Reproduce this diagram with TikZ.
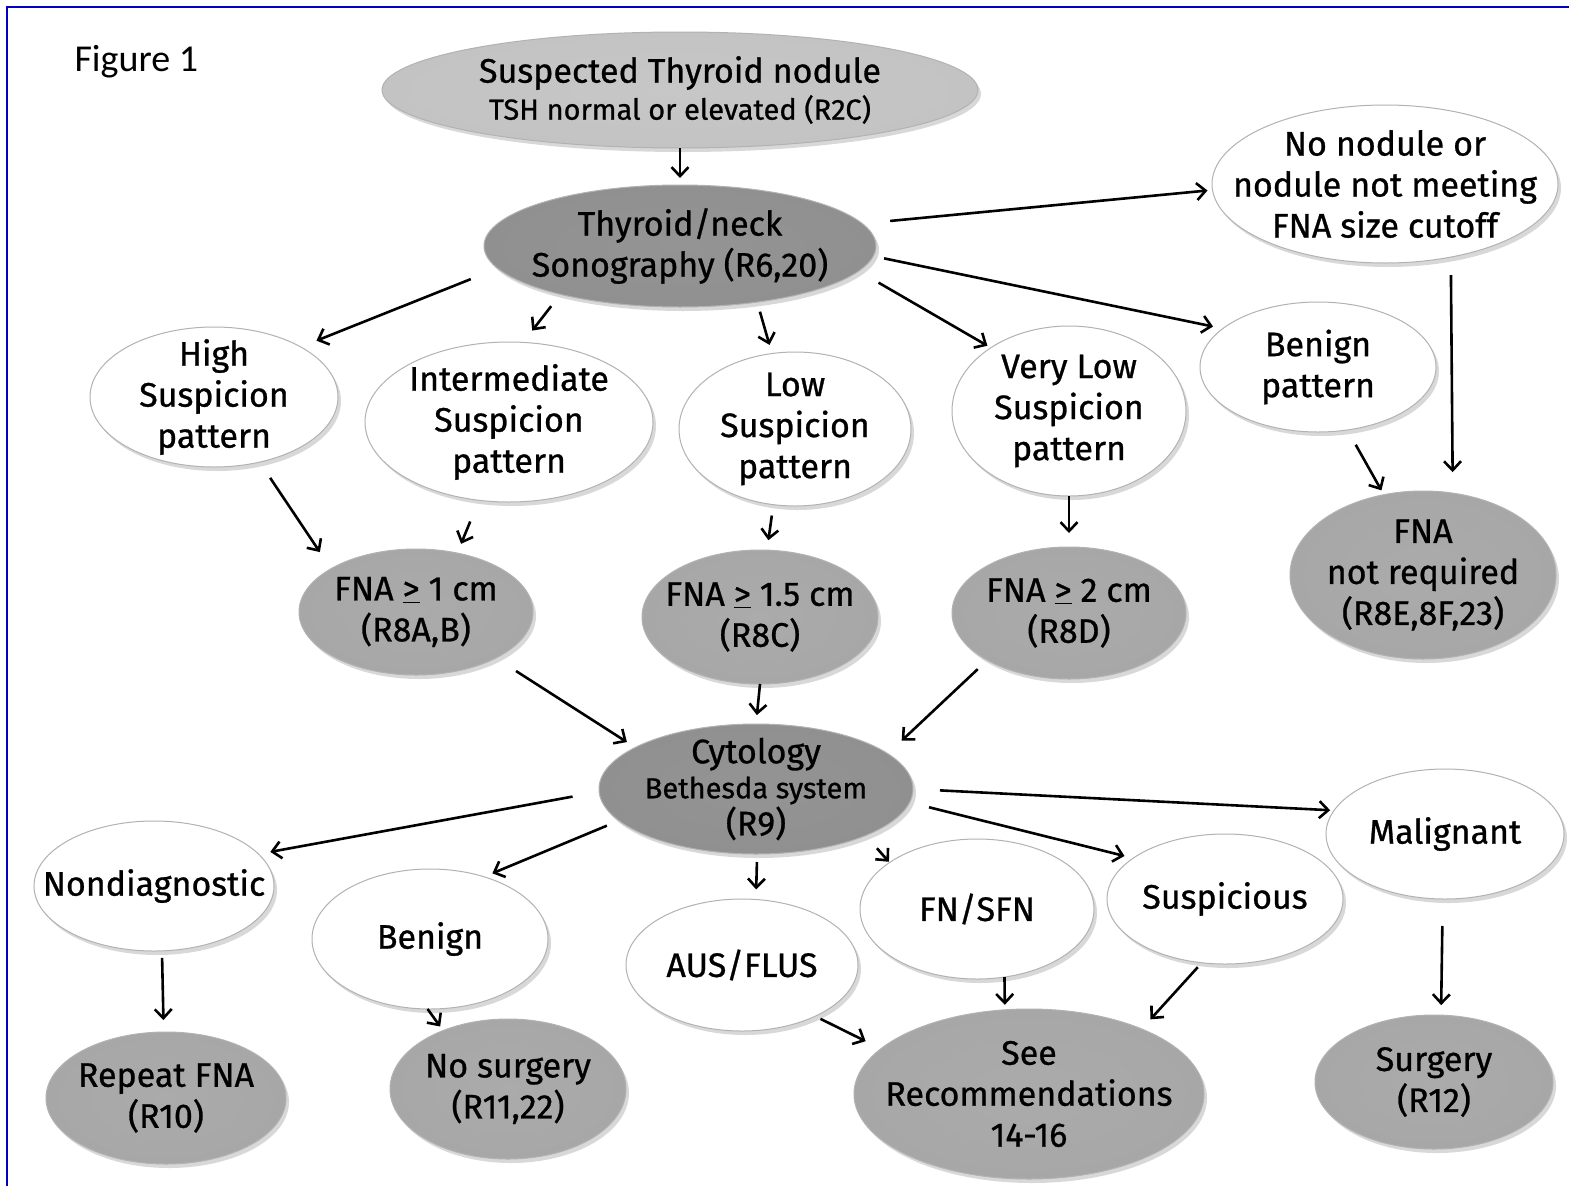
\documentclass[tikz,border=0pt]{standalone}
\usepackage{fontspec}
\setmainfont{Fira Sans}[BoldFont={Fira Sans}, BoldFeatures={FakeBold=0.8}]
\newfontfamily\figfont{Carlito}
\usetikzlibrary{shapes.geometric,shadows,arrows.meta}
\pgfdeclareradialshading{whiterim}{\pgfpoint{0bp}{0bp}}{color(0bp)=(white); color(41bp)=(white); color(47bp)=(black!10); color(50bp)=(black!32); color(100bp)=(black!32)}
\pgfdeclareradialshading{grayrim}{\pgfpoint{0bp}{0bp}}{color(0bp)=(black!33); color(34bp)=(black!35); color(45bp)=(black!42); color(50bp)=(black!58); color(100bp)=(black!58)}
\pgfdeclareradialshading{darkrim}{\pgfpoint{0bp}{0bp}}{color(0bp)=(black!42); color(34bp)=(black!44); color(45bp)=(black!50); color(50bp)=(black!65); color(100bp)=(black!65)}
\pgfdeclareradialshading{lightrim}{\pgfpoint{0bp}{0bp}}{color(0bp)=(black!22); color(34bp)=(black!24); color(45bp)=(black!30); color(50bp)=(black!47); color(100bp)=(black!47)}
\newcommand{\nfont}{\bfseries\fontsize{34}{41}\selectfont}
\newcommand{\sfont}{\fontsize{29}{36}\selectfont}
\tikzset{
  base/.style={ellipse, inner sep=-200pt, outer sep=0pt, draw=black!30, line width=1pt,
    drop shadow={opacity=0.3, shadow xshift=3pt, shadow yshift=-4pt},
    font=\nfont, align=center, text=black},
  wnode/.style={base, shade, shading=whiterim},
  gnode/.style={base, shade, shading=grayrim},
  dnode/.style={base, shade, shading=darkrim},
  lnode/.style={base, shade, shading=lightrim},
  arr/.style={-{Straight Barb[length=9pt,width=17pt]}, line width=2.6pt, black},
  frame/.style={line width=2.5pt, blue!75!black}
}
\begin{document}
\begin{tikzpicture}[x=1pt,y=-1pt]
\useasboundingbox (0,0) rectangle (1569,1186);
\fill[white] (0,0) rectangle (1569,1186);
\draw[frame] (7,1186) -- (7,7) -- (1569,7);
\node[font=\figfont\fontsize{38}{44}\selectfont, anchor=base west] (fig) at (71,71) {Figure 1};
% row 1
\node[lnode, minimum width=596pt, minimum height=116pt] (top) at (680,90) {Suspected Thyroid nodule\\[-4pt]{\sfont TSH normal or elevated (R2C)}};
\node[dnode, minimum width=392pt, minimum height=122pt] (sono) at (680,246) {Thyroid/neck\\Sonography (R6,20)};
\node[wnode, minimum width=346pt, minimum height=158pt] (nn) at (1385,184) {No nodule or\\nodule not meeting\\FNA size cutoff};
% row 2
\node[wnode, minimum width=248pt, minimum height=140pt] (high) at (214,397) {High\\Suspicion\\pattern};
\node[wnode, minimum width=288pt, minimum height=160pt] (inter) at (509,422) {Intermediate\\Suspicion\\pattern};
\node[wnode, minimum width=232pt, minimum height=154pt] (low) at (795,429) {Low\\Suspicion\\pattern};
\node[wnode, minimum width=234pt, minimum height=170pt] (vlow) at (1069,411) {Very Low\\Suspicion\\pattern};
\node[wnode, minimum width=236pt, minimum height=130pt] (bpat) at (1318,367) {Benign\\pattern};
% row 3
\node[gnode, minimum width=234pt, minimum height=126pt] (fna1) at (416,612) {FNA \underline{>} 1 cm\\(R8A,B)};
\node[gnode, minimum width=236pt, minimum height=134pt] (fna15) at (760,617) {FNA \underline{>} 1.5 cm\\(R8C)};
\node[gnode, minimum width=234pt, minimum height=132pt] (fna2) at (1069,613) {FNA \underline{>} 2 cm\\(R8D)};
\node[gnode, minimum width=266pt, minimum height=168pt] (fnanr) at (1423,575) {FNA\\not required\\(R8E,8F,23)};
% cytology
\node[dnode, minimum width=314pt, minimum height=130pt] (cyto) at (756,789) {Cytology\\[-6pt]{\sfont Bethesda system}\\[-4pt](R9)};
% row 5
\node[wnode, minimum width=240pt, minimum height=130pt] (nondx) at (154,886) {Nondiagnostic};
\node[wnode, minimum width=236pt, minimum height=140pt] (benign) at (430,939) {Benign};
\node[wnode, minimum width=232pt, minimum height=132pt] (aus) at (742,965) {AUS/FLUS};
\node[wnode, minimum width=234pt, minimum height=140pt] (fnsfn) at (977,909) {FN/SFN};
\node[wnode, minimum width=236pt, minimum height=130pt] (susp) at (1225,899) {Suspicious};
\node[wnode, minimum width=238pt, minimum height=130pt] (malig) at (1445,834) {Malignant};
% row 6
\node[gnode, minimum width=240pt, minimum height=132pt] (repeat) at (166,1098) {Repeat FNA\\(R10)};
\node[gnode, minimum width=236pt, minimum height=140pt] (nosurg) at (508,1089) {No surgery\\(R11,22)};
\node[gnode, minimum width=350pt, minimum height=170pt] (seerec) at (1029,1094) {See\\Recommendations\\14-16};
\node[gnode, minimum width=238pt, minimum height=134pt] (surgery) at (1434,1082) {Surgery\\(R12)};
% arrows
\draw[arr, shorten >=7pt] (top.south) -- (sono.north);
\draw[arr, shorten <=28pt, shorten >=5pt] (sono.7) -- (nn.182);
\draw[arr, shorten <=29pt, shorten >=17pt] (sono.187) -- (high.30);
\draw[arr, shorten <=15pt, shorten >=15pt] (sono.202) -- (inter.80);
\draw[arr, shorten <=10pt, shorten >=9pt] (sono.324) -- (low.107);
\draw[arr, shorten <=23pt, shorten >=4pt] (sono.352) -- (vlow.141);
\draw[arr, shorten <=11pt, shorten >=10pt] (sono.357) -- (bpat.158);
\draw[arr, shorten <=18pt, shorten >=21pt] (nn.312) -- (fnanr.70);
\draw[arr, shorten <=17pt, shorten >=5pt] (bpat.295) -- (fnanr.116);
\draw[arr, shorten <=19pt, shorten >=20pt] (high.305) -- (fna1.153);
\draw[arr, shorten <=23pt, shorten >=10pt] (inter.249) -- (fna1.55);
\draw[arr, shorten <=11pt, shorten >=10pt] (low.254) -- (fna15.84);
\draw[arr, shorten >=14pt] (vlow.south) -- (fna2.north);
\draw[arr, shorten <=24pt, shorten >=10pt] (fna1.330) -- (cyto.161);
\draw[arr, shorten >=9pt] (fna15.south) -- (cyto.north);
\draw[arr, shorten <=13pt, shorten >=19pt] (fna2.210) -- (cyto.15);
\draw[arr, shorten <=27pt, shorten >=12pt] (cyto.181) -- (nondx.17);
\draw[arr, shorten <=13pt, shorten >=9pt] (cyto.193) -- (benign.49);
\draw[arr, shorten <=8pt, shorten >=10pt] (cyto.271) -- (aus.78);
\draw[arr, shorten <=17pt, shorten >=1pt] (cyto.337) -- (fnsfn.152);
\draw[arr, shorten <=20pt, shorten >=9pt] (cyto.355) -- (susp.156);
\draw[arr, shorten <=27pt, shorten >=4pt] (cyto.0) -- (malig.168);
\draw[arr, shorten <=7pt, shorten >=12pt] (nondx.277) -- (repeat.92);
\draw[arr, shorten >=5pt] (benign.268) -- (nosurg.138);
\draw[arr, shorten <=6pt, shorten >=17pt] (aus.325) -- (seerec.163);
\draw[arr, shorten >=5pt] (fnsfn.292) -- (seerec.106);
\draw[arr, shorten <=6pt, shorten >=13pt] (susp.250) -- (seerec.30);
\draw[arr, shorten <=27pt, shorten >=10pt] (malig.268) -- (surgery.84);
\end{tikzpicture}
\end{document}
